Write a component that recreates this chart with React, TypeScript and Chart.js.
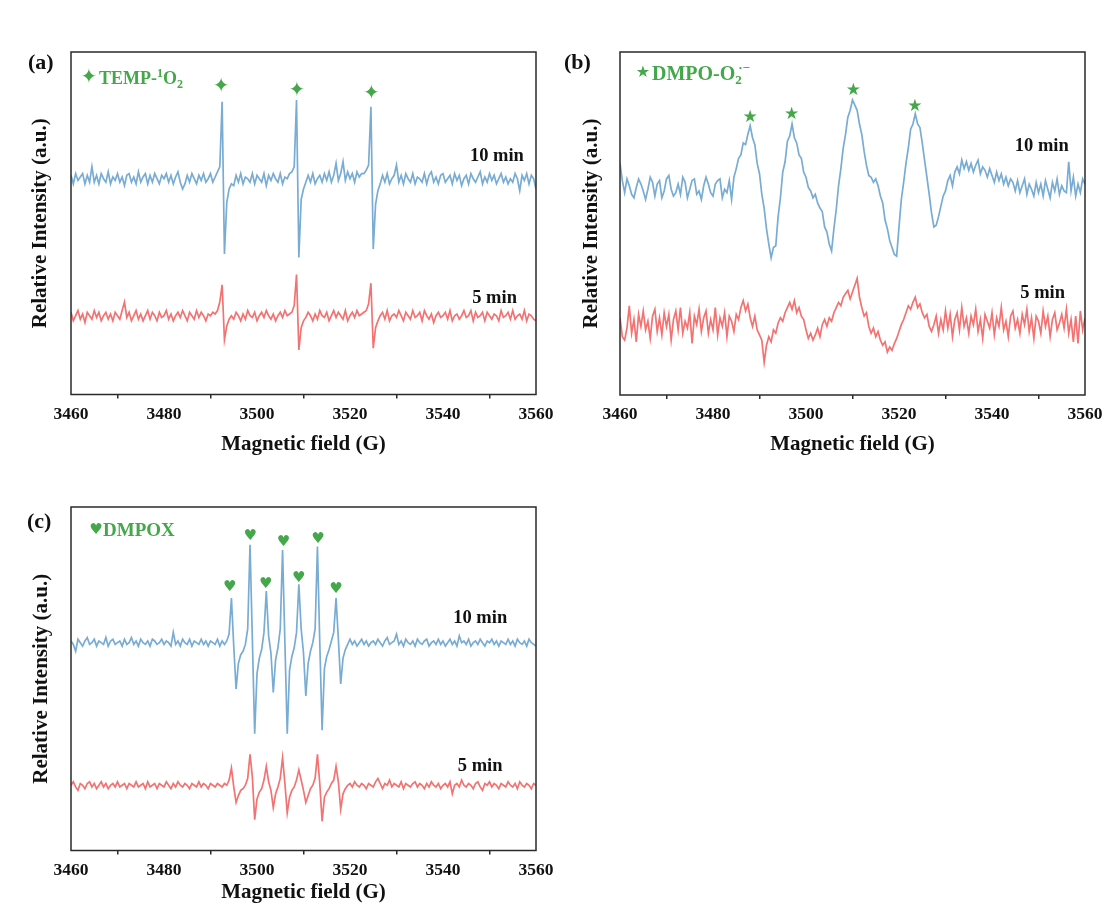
import React, { useEffect, useRef } from 'react';
import { Chart, registerables } from 'chart.js';

Chart.register(...registerables);

const SERIF = '"Liberation Serif", "Times New Roman", Times, serif';
const SYMBOL = '"DejaVu Sans", sans-serif';
const BLUE = '#78ACD3';
const RED = '#F37272';
const GREEN = '#44A84A';
const INK = '#111111';
const FRAME = '#2a2a2a';

// ---- shared axis data ----
const FIELD_START = 3460;
const FIELD_STEP = 0.5;
const X_TICK_VALUES = [3460, 3470, 3480, 3490, 3500, 3510, 3520, 3530, 3540, 3550, 3560];
const X_TICK_LABELS = ['3460', '', '3480', '', '3500', '', '3520', '', '3540', '', '3560'];
const X_TITLE = 'Magnetic field (G)';
const Y_TITLE = 'Relative Intensity (a.u.)';
const SERIES_NAMES = ['10 min', '5 min'];

// ---- (a) TEMP-1O2, intensity (a.u.) sampled every 0.5 G from 3460 G ----
const A_10MIN = [
  2, -3, 3, -1, 1, 3, -3, 2, -2, 7,
  -2, 2, -3, 3, 0, -2, 4, -3, 1, -1,
  3, -2, 1, -4, 2, 3, -2, 1, -3, 4,
  -2, 1, 3, -3, 2, -2, 3, 0, -3, 2,
  0, 3, -2, 2, -3, 1, 4, -2, -6, -3,
  2, -2, 3, 0, -3, 2, -1, 3, -2, 0,
  3, -2, 1, 4, 7, 45, -44, -14, -6, -3,
  -4, 2, -2, 3, -3, 1, 0, -2, 3, -3,
  2, 0, -2, 3, -4, 2, -1, 3, 0, -2,
  3, -3, 1, 0, 3, 4, 7, 46, -46, -12,
  -6, -2, 2, -2, 3, -3, 0, 2, -2, 3,
  -1, 4, -2, 2, 9, -1, 3, 10, -1, 4,
  0, 3, -2, 4, 1, 3, 3, 5, 8, 42,
  -41, -15, -7, -3, 2, -2, 3, -3, 0, 2,
  8, -2, 2, -3, 3, 0, -2, 3, -3, 1,
  0, -2, 3, -3, 2, 4, -2, 1, -3, 2,
  3, -2, 0, 2, -3, 3, -1, 2, -4, 0,
  2, -3, 3, 0, -2, 1, 4, -3, 1, -2,
  3, -1, 2, -3, 0, 3, -2, 1, -3, 0,
  -2, 3, 0, -7, 2, -1, 3, -3, 2, 0,
  -6,
];
const A_5MIN = [
  2, -3, 0, 3, -2, 1, -4, 2, 0, -2,
  3, -1, 2, -3, 0, 2, -2, 1, -3, 2,
  0, -2, 3, 8, -1, 2, -3, 0, 3, -2,
  1, -3, 0, 3, -2, 2, 0, -3, 2, -1,
  0, 3, -2, 1, -3, 0, 2, -1, 3, 0,
  -3, 2, 0, -2, 3, -1, 2, 0, -3, 1,
  0, 2, 1, 3, 8, 18, -14, -6, -2, 0,
  -2, 2, 0, -3, 1, -2, 3, 0, -1, 2,
  -3, 0, 2, -1, 3, 0, -2, 1, -3, 0,
  2, -1, 3, 0, 1, 2, 6, 24, -20, -7,
  -3, -1, 2, 0, -3, 1, -2, 3, 0, -1,
  2, -3, 0, 3, -1, 2, 0, -2, 3, -3,
  0, 2, -1, 3, 0, 1, 2, 3, 7, 19,
  -19, -7, -3, 0, 2, -2, 3, -3, 0, 1,
  -1, 3, 0, -3, 2, 0, -2, 3, -1, 0,
  2, -3, 3, 0, -2, 1, -4, 0, 2, -1,
  0, 2, -2, 3, -3, 0, 1, -2, 0, 3,
  -1, 0, 3, -3, 2, -1, 0, 2, -3, 2,
  0, -2, 1, 0, -3, 3, -1, 0, 2, -2,
  3, -2, 0, 1, -2, 3, -3, 1, 0, -2,
  -3,
];
const A_OFFSETS = [26, -54];
const A_MARK_FIELDS = [3492.3, 3508.6, 3524.6];
const A_MARK_INTS = [79.7, 77.4, 75.8];
const A_LABEL_FIELDS = [3557.4, 3555.9];
const A_LABEL_INTS = [39.4, -43.5];

// ---- (b) DMPO-O2.- ----
const B_10MIN = [
  14, 4, -3, 5, 1, -4, -6, 0, 5, 2,
  -2, -7, -1, 6, 3, -5, 2, 4, -6, -2,
  5, 7, -1, -5, -3, 2, -4, 6, 3, -6,
  -1, 4, 5, -4, -2, -7, 1, 6, 2, -3,
  -5, 2, 4, 5, -6, -1, -3, 4, -7, 6,
  11, 17, 19, 26, 25, 31, 36, 29, 25, 14,
  8, -4, -12, -24, -33, -41, -35, -34, -17, -6,
  9, 15, 27, 30, 37, 29, 26, 19, 17, 9,
  6, 0, -2, -6, -4, -9, -12, -14, -23, -26,
  -33, -37, -24, -13, 1, 11, 23, 31, 41, 45,
  51, 48, 45, 37, 31, 21, 13, 7, 6, 3,
  5, 1, -5, -9, -19, -24, -31, -35, -39, -40,
  -23, -7, 3, 14, 23, 34, 37, 43, 37, 35,
  26, 16, 6, -4, -15, -23, -22, -17, -11, -5,
  -2, 4, 7, 1, 9, 12, 8, 16, 11, 15,
  10, 14, 9, 13, 16, 8, 12, 10, 6, 11,
  7, 3, 9, 4, 8, 2, 6, 1, 5, 3,
  -2, 4, -3, 1, 5, -4, 2, -1, -5, 3,
  -3, 2, -5, 4, -1, -6, 3, -2, 5, -4,
  1, -2, -3, 15, -2, 6, -5, 2, -3, 5,
  2,
];
const B_5MIN = [
  3, -8, -10, -3, 10, -6, 2, -11, 5, -2,
  7, -4, 1, -9, 4, 8, -5, 3, -7, 6,
  -2, 5, -10, 2, 7, -4, 9, -6, 1, -3,
  6, -12, 4, -1, 8, -5, 3, 7, -6, 2,
  -4, 9, -7, 3, -2, 6, -8, 4, 1, -5,
  5, 2, 9, 13, 7, 11, 3, -2, 4, -4,
  -7, -10, -23, -13, -8, -11, -4, -6, 0, 3,
  1, 6, 9, 12, 8, 13, 6, 9, 4, 2,
  -4, -9, -6, -10, -7, -3, -8, -1, 2, -2,
  3, 1, 6, 9, 12, 10, 15, 17, 19, 14,
  18, 22, 26, 15, 9, 4, 6, -2, -6, -3,
  -8, -5, -10, -13, -11, -17, -14, -16, -12, -9,
  -5, -1, 2, 6, 10, 8, 12, 15, 9, 11,
  6, 3, 5, -2, -5, -1, 4, -6, 2, -4,
  7, -3, 5, -8, 2, 6, -4, 9, -2, 3,
  -6, 4, -1, 8, -5, 2, -9, 5, 1, -3,
  6, -7, 3, -2, 9, -4, 1, -8, 4, 7,
  -3, 2, -6, 5, -1, 8, -5, 3, -9, 4,
  1, -6, 7, -2, 4, -8, 2, 6, -4, 0,
  5, -3, 8, -6, 2, -11, 4, -12, 7, -4,
  3,
];
const B_OFFSETS = [21, -58];
const B_MARK_FIELDS = [3488.0, 3496.9, 3510.2, 3523.4];
const B_MARK_INTS = [61.9, 63.8, 77.3, 68.0];
const B_LABEL_FIELDS = [3556.5, 3555.7];
const B_LABEL_INTS = [44.8, -40.5];

// ---- (c) DMPOX ----
const C_10MIN = [
  1, -1, -5, 2, 0, -2, 1, 3, -1, 0,
  2, -2, 1, 0, -1, 3, -2, 1, 2, -1,
  0, 1, -2, 2, -1, 0, 3, -1, 1, -2,
  2, 0, -1, 1, -2, 2, 1, -1, 0, 2,
  -1, 1, 0, -2, 6, -1, 1, -2, 2, 0,
  -1, 2, -2, 1, 0, -1, 2, -1, 1, -2,
  1, 0, -1, 2, -2, 1, -1, 1, 5, 26,
  -2, -27, -12, -7, -5, -1, 8, 57, 2, -53,
  -18, -9, -4, 6, 30, 4, -6, -29, -10, -3,
  8, 54, 0, -53, -16, -8, -3, 6, 34, 8,
  -6, -31, -12, -5, 0, 8, 56, 0, -51, -15,
  -8, -4, 1, 6, 26, 2, -24, -9, -4, -1,
  2, -1, 1, -2, 0, 2, -1, 1, -2, 0,
  1, -1, 2, 0, -2, 1, 3, -1, 0, 1,
  5, -1, 1, -2, 2, 0, -1, 1, -2, 2,
  0, -1, 1, 2, -2, 0, 1, -1, 2, -1,
  1, -2, 0, 2, -1, 1, -2, 4, 0, 1,
  -1, 2, -2, 0, 1, -1, 2, 0, -2, 1,
  0, 2, -1, 1, -2, 1, 0, -1, 2, -1,
  1, -2, 2, 0, -1, 1, -2, 2, 0, -1,
  -2,
];
const C_5MIN = [
  0, 2, -1, -3, 1, 0, -2, 1, 2, -1,
  1, -2, 0, 2, -1, 1, -2, 0, 1, -1,
  2, -1, 0, 1, -2, 1, 0, -1, 2, -1,
  0, 1, -2, 2, -1, 0, 1, -2, 1, 0,
  -1, 2, 0, -2, 1, -1, 2, 0, -1, 1,
  0, -2, 1, 0, -1, 2, -1, 1, 0, -2,
  1, 0, -1, 1, 0, -1, 1, 0, 3, 10,
  -1, -10, -6, -3, -2, 0, 4, 18, 5, -20,
  -8, -4, -2, 3, 11, 2, -3, -13, -5, -1,
  4, 16, 1, -16, -7, -3, -1, 3, 9, 3,
  -3, -10, -6, -2, 0, 4, 18, 1, -21, -7,
  -4, -2, 1, 3, 11, 2, -14, -5, -2, 0,
  1, -1, 2, 0, -1, 1, 0, -2, 1, 0,
  -1, 2, 4, 1, -2, 1, 0, 3, -1, 1,
  0, -1, 2, -2, 1, 0, -1, 1, 2, -1,
  1, 0, -2, 1, -1, 2, 0, -1, 1, -2,
  0, 1, -1, 2, -5, 0, 1, -1, 3, 0,
  -1, 1, 0, -2, 1, 2, -1, -3, 1, 0,
  2, -1, 1, 0, -2, 1, 0, -1, 2, 0,
  -1, 1, -2, 2, 0, -1, 1, 0, -2, 1,
  0,
];
const C_OFFSETS = [21, -62];
const C_MARK_FIELDS = [3494.15, 3498.54, 3501.85, 3505.7, 3508.95, 3513.1, 3517.0];
const C_MARK_INTS = [53.6, 83.3, 55.0, 79.4, 58.5, 81.4, 52.1];
const C_LABEL_FIELDS = [3553.8, 3552.8];
const C_LABEL_INTS = [35.2, -50.8];

// ---- panel layouts ----
const PANELS = [
  {
    key: 'a', left: 0, top: 0, width: 560, height: 465,
    areaTop: 52, areaRight: 536, axisLeft: 71, areaBottom: 394.5,
    xTitlePad: 7.4, yTitlePad: 28.4,
    series: [A_10MIN, A_5MIN], offsets: A_OFFSETS,
    tag: '(a)', tagX: 28, tagY: 63,
    glyph: '\u2726', glyphSize: 20, markGlyphSize: 20,
    legend: [
      { t: 'TEMP-', size: 18 },
      { t: '1', size: 12, dy: -7 },
      { t: 'O', size: 18 },
      { t: '2', size: 12, dy: 4 },
    ],
    legendGx: 18, legendTx: 28, legendY: 26, legendSize: 18,
    markFields: A_MARK_FIELDS, markInts: A_MARK_INTS,
    labelFields: A_LABEL_FIELDS, labelInts: A_LABEL_INTS,
  },
  {
    key: 'b', left: 549, top: 0, width: 558, height: 465,
    areaTop: 52, areaRight: 536, axisLeft: 71, areaBottom: 395,
    xTitlePad: 7.4, yTitlePad: 30.4,
    series: [B_10MIN, B_5MIN], offsets: B_OFFSETS,
    tag: '(b)', tagX: 15, tagY: 63,
    glyph: '\u2605', glyphSize: 16, markGlyphSize: 17,
    legend: [
      { t: 'DMPO-O', size: 20 },
      { t: '2', size: 13, dy: 4, back: 0.55 },
      { t: '\u00B7\u2212', size: 13, dy: -8 },
    ],
    legendGx: 23, legendTx: 32, legendY: 21, legendSize: 20,
    markFields: B_MARK_FIELDS, markInts: B_MARK_INTS,
    labelFields: B_LABEL_FIELDS, labelInts: B_LABEL_INTS,
  },
  {
    key: 'c', left: 0, top: 455, width: 560, height: 460,
    areaTop: 52, areaRight: 536, axisLeft: 71, areaBottom: 395.5,
    xTitlePad: 9.4, yTitlePad: 28.8,
    series: [C_10MIN, C_5MIN], offsets: C_OFFSETS,
    tag: '(c)', tagX: 27, tagY: 67,
    glyph: '\u2665', glyphSize: 15, markGlyphSize: 15,
    legend: [{ t: 'DMPOX', size: 19 }],
    legendGx: 25, legendTx: 32, legendY: 23, legendSize: 19,
    markFields: C_MARK_FIELDS, markInts: C_MARK_INTS,
    labelFields: C_LABEL_FIELDS, labelInts: C_LABEL_INTS,
  },
];

function drawRuns(ctx, x, y, runs, color) {
  ctx.fillStyle = color;
  ctx.textAlign = 'left';
  ctx.textBaseline = 'alphabetic';
  let cx = x;
  for (const r of runs) {
    ctx.font = `bold ${r.size}px ${SERIF}`;
    ctx.fillText(r.t, cx, y + (r.dy || 0));
    const w = ctx.measureText(r.t).width;
    cx += r.back ? w * (1 - r.back) : w;
  }
}

function Panel({ cfg }) {
  const ref = useRef(null);
  useEffect(() => {
    const canvas = ref.current;
    if (!canvas) return;
    const decor = {
      id: 'decor_' + cfg.key,
      afterDraw(chart) {
        const { ctx, chartArea: ca, scales } = chart;
        const xs = scales.x;
        const ys = scales.y;
        ctx.save();
        // frame
        ctx.strokeStyle = FRAME;
        ctx.lineWidth = 1.5;
        ctx.strokeRect(ca.left, ca.top, ca.right - ca.left, ca.bottom - ca.top);
        // panel tag
        ctx.fillStyle = INK;
        ctx.font = `bold 22px ${SERIF}`;
        ctx.textAlign = 'left';
        ctx.textBaseline = 'middle';
        ctx.fillText(cfg.tag, cfg.tagX, cfg.tagY);
        // legend glyph + text
        ctx.fillStyle = GREEN;
        ctx.font = `${cfg.glyphSize}px ${SYMBOL}`;
        ctx.textAlign = 'center';
        ctx.textBaseline = 'middle';
        ctx.fillText(cfg.glyph, ca.left + cfg.legendGx, ca.top + cfg.legendY);
        drawRuns(ctx, ca.left + cfg.legendTx, ca.top + cfg.legendY + cfg.legendSize * 0.33, cfg.legend, GREEN);
        // peak markers
        ctx.fillStyle = GREEN;
        ctx.font = `${cfg.markGlyphSize}px ${SYMBOL}`;
        ctx.textAlign = 'center';
        ctx.textBaseline = 'middle';
        cfg.markFields.forEach((f, i) => {
          ctx.fillText(cfg.glyph, xs.getPixelForValue(f), ys.getPixelForValue(cfg.markInts[i]));
        });
        // series labels
        ctx.fillStyle = INK;
        ctx.font = `bold 18.5px ${SERIF}`;
        ctx.textAlign = 'right';
        ctx.textBaseline = 'middle';
        cfg.labelFields.forEach((f, i) => {
          ctx.fillText(SERIES_NAMES[i], xs.getPixelForValue(f), ys.getPixelForValue(cfg.labelInts[i]));
        });
        ctx.restore();
      },
    };

    const chart = new Chart(canvas, {
      type: 'line',
      data: {
        datasets: cfg.series.map((vals, k) => ({
          label: SERIES_NAMES[k],
          data: vals.map((v, i) => ({ x: FIELD_START + i * FIELD_STEP, y: v + cfg.offsets[k] })),
          borderColor: k === 0 ? BLUE : RED,
          borderWidth: 1.7,
          pointRadius: 0,
          tension: 0,
          fill: false,
        })),
      },
      options: {
        responsive: false,
        animation: false,
        events: [],
        layout: { padding: { left: 0, top: cfg.areaTop, right: cfg.width - cfg.areaRight, bottom: 0 } },
        plugins: { legend: { display: false }, tooltip: { enabled: false }, title: { display: false } },
        scales: {
          x: {
            type: 'linear',
            min: 3460,
            max: 3560,
            afterBuildTicks: (s) => {
              s.ticks = X_TICK_VALUES.map((v) => ({ value: v }));
            },
            afterFit: (s) => {
              s.height = cfg.height - cfg.areaBottom;
              s.paddingLeft = 0;
              s.paddingRight = 0;
            },
            ticks: {
              autoSkip: false,
              maxRotation: 0,
              minRotation: 0,
              padding: 5,
              color: INK,
              font: { family: SERIF, size: 17.5, weight: 'bold' },
              callback: (v, i) => X_TICK_LABELS[i],
            },
            grid: {
              drawOnChartArea: false,
              drawTicks: true,
              tickLength: 4,
              lineWidth: 1.5,
              color: (c) => (X_TICK_LABELS[c.index] ? 'rgba(0,0,0,0)' : FRAME),
            },
            border: { display: false },
            title: {
              display: true,
              text: X_TITLE,
              color: INK,
              font: { family: SERIF, size: 21, weight: 'bold' },
              padding: { top: 0, bottom: cfg.xTitlePad },
            },
          },
          y: {
            type: 'linear',
            min: -100,
            max: 100,
            ticks: { display: false },
            grid: { display: false },
            border: { display: false },
            afterFit: (s) => {
              s.width = cfg.axisLeft;
            },
            title: {
              display: true,
              text: Y_TITLE,
              color: INK,
              font: { family: SERIF, size: 21, weight: 'bold' },
              padding: { top: cfg.yTitlePad, bottom: 0 },
            },
          },
        },
      },
      plugins: [decor],
    });
    return () => chart.destroy();
  }, [cfg]);

  return (
    <canvas
      ref={ref}
      width={cfg.width}
      height={cfg.height}
      style={{ position: 'absolute', left: cfg.left, top: cfg.top, width: cfg.width, height: cfg.height }}
    />
  );
}

export default function App() {
  return (
    <div
      style={{
        position: 'absolute',
        left: 0,
        top: 0,
        width: 1107,
        height: 915,
        background: '#ffffff',
        overflow: 'hidden',
      }}
    >
      {PANELS.map((p) => (
        <Panel key={p.key} cfg={p} />
      ))}
    </div>
  );
}
